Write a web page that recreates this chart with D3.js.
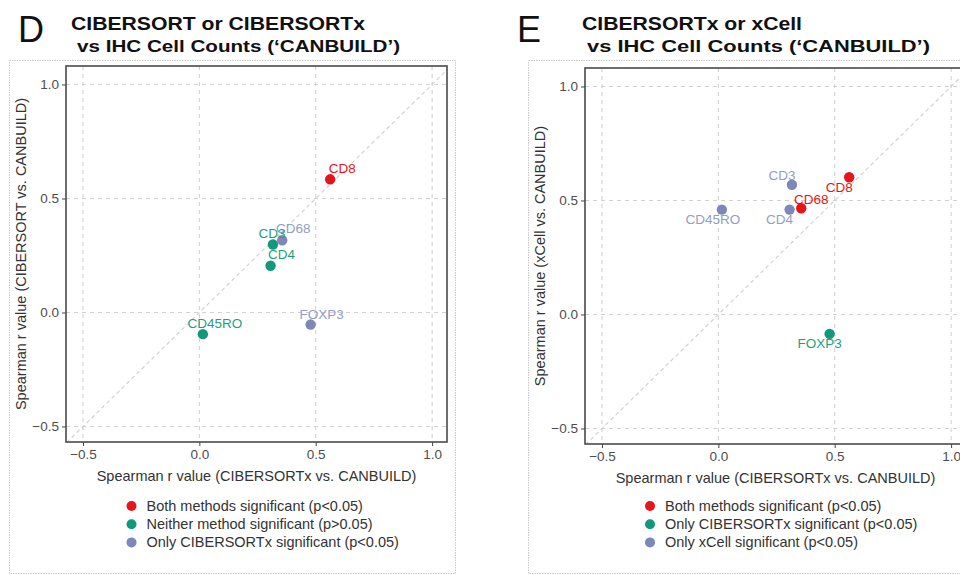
<!DOCTYPE html>
<html>
<head>
<meta charset="utf-8">
<script src="https://cdn.jsdelivr.net/npm/d3@7"></script>
<style>
  html, body { margin: 0; padding: 0; background: #fff; }
  svg { display: block; font-family: "Liberation Sans", Arial, Helvetica, sans-serif; }
</style>
</head>
<body>
<svg id="chart" width="960" height="575"></svg>
<script>
// ---------------- data ----------------
const genes = ["CD8", "CD68", "CD3", "CD4", "FOXP3", "CD45RO"];
const cibersortxR = [0.562, 0.356, 0.316, 0.306, 0.478, 0.015];
const cibersortR  = [0.584, 0.317, 0.298, 0.205, -0.053, -0.095];
const xcellR      = [0.602, 0.466, 0.569, 0.460, -0.085, 0.460];

// significance group index (0 = red, 1 = green, 2 = blue)
const groupD = [0, 2, 1, 1, 2, 1];
const groupE = [0, 0, 2, 2, 1, 2];

const legendD = ["Both methods significant (p<0.05)", "Neither method significant (p>0.05)", "Only CIBERSORTx significant (p<0.05)"];
const legendE = ["Both methods significant (p<0.05)", "Only CIBERSORTx significant (p<0.05)", "Only xCell significant (p<0.05)"];

const tickValues = [-0.5, 0.0, 0.5, 1.0];
const tickLabels = ["\u22120.5", "0.0", "0.5", "1.0"];

// ---------------- styling / layout ----------------
const pointColors = ["#e6141b", "#11997a", "#7d88b8"];
const labelColors = ["#e6141b", "#1f9f80", "#939dc6"];
const domainX = [-0.573, 1.064];
const domainY = [-0.568, 1.081];
const PW = 381, PH = 376;

// label nudges in pixels (ggrepel-like placement)
const nudgeD = [[12, -11], [11, -12], [-1, -11], [11, -11], [11, -10], [12, -11]];
const nudgeE = [[-10, 10], [10, -9], [-10, -9], [-10, 10], [-10, 10], [-9, 10]];

const svg = d3.select("#chart");

function panel(cfg) {
  // outer light frame
  svg.append("rect")
    .attr("x", cfg.frame[0] + 0.5).attr("y", cfg.frame[1] + 0.5)
    .attr("width", cfg.frame[2]).attr("height", cfg.frame[3])
    .attr("fill", "none").attr("stroke", "#c8c8c8").attr("stroke-width", 1)
    .attr("stroke-dasharray", "1.5,1");

  // big letter
  svg.append("text").attr("x", cfg.letterX).attr("y", 42)
    .attr("font-size", 36).attr("fill", "#111").text(cfg.letter);
  svg.append("text").attr("x", cfg.t1[0]).attr("y", 30)
    .attr("font-size", 19).attr("font-weight", "bold").attr("fill", "#111")
    .attr("textLength", cfg.t1[1]).attr("lengthAdjust", "spacingAndGlyphs")
    .text(cfg.title1);
  svg.append("text").attr("x", cfg.t2[0]).attr("y", 52)
    .attr("font-size", 17).attr("font-weight", "bold").attr("fill", "#111")
    .attr("textLength", cfg.t2[1]).attr("lengthAdjust", "spacingAndGlyphs")
    .text(cfg.title2);

  const g = svg.append("g").attr("transform", `translate(${cfg.ox},${cfg.oy})`);
  const x = d3.scaleLinear().domain(domainX).range([0, PW]);
  const y = d3.scaleLinear().domain(domainY).range([PH, 0]);

  const clipId = "clip" + cfg.letter;
  g.append("clipPath").attr("id", clipId)
    .append("rect").attr("width", PW).attr("height", PH);

  const grid = g.append("g").attr("clip-path", `url(#${clipId})`);
  grid.selectAll("line.gx").data(tickValues).join("line")
    .attr("x1", d => x(d)).attr("x2", d => x(d)).attr("y1", 0).attr("y2", PH)
    .attr("stroke", "#d2d2d2").attr("stroke-width", 1.1).attr("stroke-dasharray", "4,4");
  grid.selectAll("line.gy").data(tickValues).join("line")
    .attr("y1", d => y(d)).attr("y2", d => y(d)).attr("x1", 0).attr("x2", PW)
    .attr("stroke", "#d2d2d2").attr("stroke-width", 1.1).attr("stroke-dasharray", "4,4");
  // identity line
  grid.append("line")
    .attr("x1", x(-1)).attr("y1", y(-1)).attr("x2", x(2)).attr("y2", y(2))
    .attr("stroke", "#cfcfcf").attr("stroke-width", 1.1).attr("stroke-dasharray", "4,3");

  // axes
  const xAxis = d3.axisBottom(x).tickValues(tickValues)
    .tickFormat((d, i) => tickLabels[i]).tickSize(4).tickPadding(3);
  const yAxis = d3.axisLeft(y).tickValues(tickValues)
    .tickFormat((d, i) => tickLabels[i]).tickSize(4).tickPadding(3);
  const gx = g.append("g").attr("transform", `translate(0,${PH})`).call(xAxis);
  const gy = g.append("g").call(yAxis);
  [gx, gy].forEach(a => {
    a.select(".domain").remove();
    a.selectAll(".tick line").attr("stroke", "#444");
    a.selectAll(".tick text").attr("fill", "#4d4d4d").attr("font-size", 13.5)
      .attr("font-family", "Liberation Sans, Arial, sans-serif");
  });

  // panel border
  g.append("rect").attr("width", PW).attr("height", PH)
    .attr("fill", "none").attr("stroke", "#4a4a4a").attr("stroke-width", 1.6);

  // points
  const data = genes.map((gname, i) => ({
    gene: gname, xv: cibersortxR[i], yv: cfg.yValues[i], grp: cfg.groups[i], nd: cfg.nudge[i]
  }));
  g.selectAll("circle.pt").data(data).join("circle")
    .attr("cx", d => x(d.xv)).attr("cy", d => y(d.yv)).attr("r", 5.2)
    .attr("fill", d => pointColors[d.grp]);
  g.selectAll("text.lbl").data(data).join("text")
    .attr("x", d => x(d.xv) + d.nd[0]).attr("y", d => y(d.yv) + d.nd[1])
    .attr("text-anchor", "middle").attr("dominant-baseline", "central")
    .attr("font-size", 13.5).attr("fill", d => labelColors[d.grp])
    .text(d => d.gene);

  // axis titles
  g.append("text").attr("x", PW / 2).attr("y", PH + 39)
    .attr("text-anchor", "middle").attr("font-size", 14.5).attr("fill", "#333")
    .text(cfg.xTitle);
  g.append("text")
    .attr("transform", `translate(${cfg.yTitleX - cfg.ox},${PH / 2}) rotate(-90)`)
    .attr("text-anchor", "middle").attr("dominant-baseline", "central")
    .attr("font-size", 14.5).attr("fill", "#333")
    .text(cfg.yTitle);

  // legend
  const lg = svg.append("g").attr("transform", `translate(${cfg.legendX},506)`);
  cfg.legend.forEach((t, i) => {
    lg.append("circle").attr("cx", 0).attr("cy", i * 18.2).attr("r", 5)
      .attr("fill", pointColors[i]);
    lg.append("text").attr("x", 15).attr("y", i * 18.2)
      .attr("dominant-baseline", "central").attr("font-size", 14.5).attr("fill", "#333")
      .text(t);
  });
}

panel({
  letter: "D", letterX: 18, frame: [9, 60, 446, 513],
  title1: "CIBERSORT or CIBERSORTx", t1: [71, 294],
  title2: "vs IHC Cell Counts (\u2018CANBUILD\u2019)", t2: [77, 323],
  ox: 66, oy: 66, yValues: cibersortR, groups: groupD, nudge: nudgeD,
  xTitle: "Spearman r value (CIBERSORTx vs. CANBUILD)",
  yTitle: "Spearman r value (CIBERSORT vs. CANBUILD)", yTitleX: 21,
  legend: legendD, legendX: 131.5
});

panel({
  letter: "E", letterX: 517, frame: [528, 60, 446, 513],
  title1: "CIBERSORTx or xCell", t1: [582, 220],
  title2: "vs IHC Cell Counts (\u2018CANBUILD\u2019)", t2: [587, 343],
  ox: 585, oy: 68, yValues: xcellR, groups: groupE, nudge: nudgeE,
  xTitle: "Spearman r value (CIBERSORTx vs. CANBUILD)",
  yTitle: "Spearman r value (xCell vs. CANBUILD)", yTitleX: 540,
  legend: legendE, legendX: 650
});
</script>
</body>
</html>
